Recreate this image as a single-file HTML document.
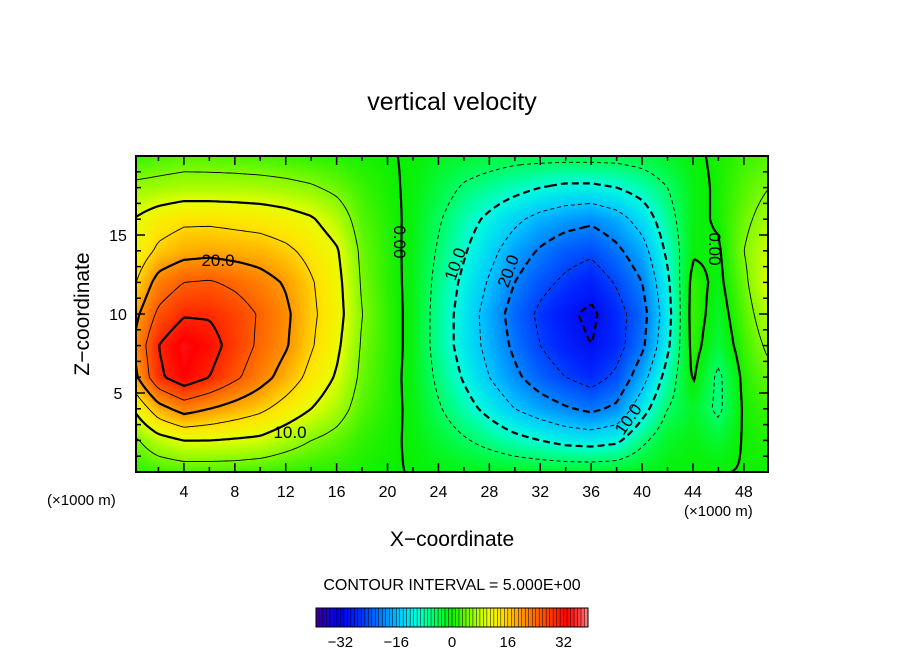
<!DOCTYPE html>
<html><head><meta charset="utf-8"><style>
body{margin:0;background:#fff;width:904px;height:654px;overflow:hidden;position:relative;font-family:"Liberation Sans",sans-serif;}
.t{position:absolute;color:#000;white-space:nowrap;}
</style></head><body>
<div class="t" style="left:0;width:904px;text-align:center;top:88px;font-size:25px;">vertical velocity</div>
<svg id="svg" width="904" height="654" style="position:absolute;left:0;top:0">
<foreignObject x="136" y="156" width="632" height="316"><canvas id="cv" width="632" height="316" xmlns="http://www.w3.org/1999/xhtml"></canvas></foreignObject>
<g id="contours"></g>
<rect x="136" y="156" width="632" height="316" fill="none" stroke="#000" stroke-width="2"/>
<g id="ticks"></g>
<g id="cbar"></g>
</svg>
<div class="t" style="left:-2px;top:302px;width:170px;text-align:center;font-size:21px;transform:rotate(-90deg);">Z−coordinate</div>
<div class="t" style="left:0;width:904px;text-align:center;top:528px;font-size:21px;">X−coordinate</div>
<div class="t" style="left:47px;top:492px;font-size:15px;">(×1000 m)</div>
<div class="t" style="left:684px;top:503px;font-size:15px;">(×1000 m)</div>
<div class="t" style="left:0;width:904px;text-align:center;top:577px;font-size:16px;">CONTOUR INTERVAL = 5.000E+00</div>
<script>
const xs=[0,2,4,6,8,10,12,14,16,18,20,22,24,26,28,30,32,34,36,38,40,42,44,46,48,50];
const zs=[20,18,16,14,12,10,8,6,4,2,0];
const W=[
[1.6,2.4,3,2.9,2.6,2.3,1.9,1.4,1.1,0.5,0.2, -0.3,-1.5,-2.5,-3,-3.5,-3.5,-3.5,-3.5,-3.5,-3,-2, -0.5,0.5,2,3],
[6,6.5,7,7,7,6.8,6.3,5.5,4,2,0.5, -0.5,-3,-5.5,-7,-8.5,-10,-11,-11,-10,-8,-5, -1,0.5,3,5],
[10,12.5,14,14,13.5,13,12,10.5,7.5,3,1, -0.8,-4.5,-8,-11,-14,-16.5,-18,-19,-17,-13,-7, -1,0.5,4,7],
[11,16,18,18.5,18,17.5,16,13.5,10.5,4,1.2, -1,-5.5,-9.5,-13.5,-17.5,-20.5,-23,-24,-21,-17,-9, -0.5,-0.5,5,9],
[14,22,25,25.5,24,22,19.5,15.5,11.5,4.5,1.3, -1,-6.5,-11,-15.5,-20,-23.5,-26,-28,-24.5,-20,-11, 1.5,-1,4,10],
[18,26,29.5,29.5,27.5,24.5,21,16,12,5,1.5, -1,-7,-12,-17,-22,-26,-29,-31,-27,-22,-12, 2,-2,3,8],
[20,30,34,32,28,24,20.5,15.5,11,4.5,1.5, -1,-7,-12,-16.5,-21,-25,-28,-30,-27,-21,-11, 1.5,-3,2,6],
[18,29,33,30,26,22,18,13.5,9.5,4,1.2, -1,-6,-10.5,-15,-19,-22.5,-25,-27,-24,-17,-8, 0.5,-6,1,4],
[10,18,22,20,18,16,13,10,7,3,1, -0.7,-4.5,-8,-11.5,-15,-17.5,-19.5,-21,-19,-12,-5, -2,-6,0.5,2],
[4,8,10,10,9.5,9,7,5,3.5,1.5,0.5, -0.4,-2.5,-4.5,-6.5,-8.5,-10,-11.5,-12,-11,-6,-2, -1,-2.5,0.3,1],
[1,2,2.5,2.5,2.5,2,1.5,1.2,1,0.5,0.2, -0.1,-0.5,-1,-1.2,-1.5,-1.7,-1.8,-1.8,-1.6,-1,-0.5, -0.2,-0.2,0.2,0.3]];
const xTicks=[4,8,12,16,20,24,28,32,36,40,44,48];
const zTicks=[5,10,15];
const cbTicks=[-32,-16,0,16,32];
const levels=[-35,-30,-25,-20,-15,-10,-5,0,5,10,15,20,25,30,35];

const X0=136,Y0=156,PW=632,PH=316;
function px(x){return 133+x*12.727;}
function py(z){return 472-z*15.8;}
function xOf(p){return (p-133)/12.727;}
function zOf(p){return (472-p)/15.8;}
function val(x,z){
  let i=Math.max(0,Math.min(xs.length-2,Math.floor(x/2)));
  let tx=Math.max(0,Math.min(1,(x-xs[i])/2));
  let zr=(20-z)/2; let j=Math.max(0,Math.min(zs.length-2,Math.floor(zr)));
  let tz=Math.max(0,Math.min(1,zr-j));
  let a=W[j][i]*(1-tx)+W[j][i+1]*tx, b=W[j+1][i]*(1-tx)+W[j+1][i+1]*tx;
  return a*(1-tz)+b*tz;
}
const stops=[[-40,[70,0,110]],[-36,[30,0,200]],[-32,[0,0,235]],[-27,[0,40,255]],[-20,[0,130,255]],[-15,[0,200,255]],[-10,[0,255,220]],[-5,[0,255,100]],[0,[10,240,0]],[5,[130,250,0]],[10,[230,255,0]],[14,[255,230,0]],[20,[255,150,0]],[28,[255,60,0]],[33,[255,0,0]],[37,[255,70,70]],[40,[255,170,170]]];
function col(v){
  if(v<=stops[0][0])return stops[0][1];
  for(let k=0;k<stops.length-1;k++){const a=stops[k],b=stops[k+1];
    if(v<=b[0]){const t=(v-a[0])/(b[0]-a[0]);return a[1].map((c,m)=>Math.round(c+(b[1][m]-c)*t));}}
  return stops[stops.length-1][1];
}
const ctx=document.getElementById('cv').getContext('2d');
const img=ctx.createImageData(PW,PH);
for(let y=0;y<PH;y++)for(let x=0;x<PW;x++){
  const c=col(val(xOf(X0+x+0.5),zOf(Y0+y+0.5)));const o=(y*PW+x)*4;
  img.data[o]=c[0];img.data[o+1]=c[1];img.data[o+2]=c[2];img.data[o+3]=255;}
ctx.putImageData(img,0,0);

const NS='http://www.w3.org/2000/svg';
const cg=document.getElementById('contours');
const st=3,nx=Math.ceil(PW/st),ny=Math.ceil(PH/st);
const F=[];for(let j=0;j<=ny;j++){F[j]=[];for(let i=0;i<=nx;i++)F[j][i]=val(xOf(X0+Math.min(i*st,PW)),zOf(Y0+Math.min(j*st,PH)));}
function key(p){return p[0].toFixed(2)+','+p[1].toFixed(2);}
levels.forEach(L=>{
  const segs=[];
  for(let j=0;j<ny;j++)for(let i=0;i<nx;i++){
    const P=[[i,j],[i+1,j],[i+1,j+1],[i,j+1]];const v=P.map(p=>F[p[1]][p[0]]);
    const pts=[];
    for(let e=0;e<4;e++){const a=v[e],b=v[(e+1)%4];
      if((a<L)!==(b<L)){const t=(L-a)/(b-a);const p1=P[e],p2=P[(e+1)%4];
        pts.push([X0+Math.min((p1[0]+(p2[0]-p1[0])*t)*st,PW),Y0+Math.min((p1[1]+(p2[1]-p1[1])*t)*st,PH)]);}}
    for(let k=0;k+1<pts.length;k+=2)segs.push([pts[k],pts[k+1]]);
  }
  const map={};segs.forEach((s,n)=>{[0,1].forEach(e=>{const k=key(s[e]);(map[k]=map[k]||[]).push(n);});});
  const used=new Array(segs.length).fill(false);
  function extend(line){
    while(true){const end=line[line.length-1];const c=(map[key(end)]||[]).find(n=>!used[n]);
      if(c===undefined)break;used[c]=true;const s=segs[c];
      line.push(key(s[0])===key(end)?s[1]:s[0]);}
  }
  let d='';
  segs.forEach((s,n)=>{if(used[n])return;used[n]=true;
    let line=[s[0],s[1]];extend(line);line.reverse();extend(line);
    d+='M'+line.map(p=>p[0].toFixed(1)+','+p[1].toFixed(1)).join('L');});
  const p=document.createElementNS(NS,'path');
  
  
  p.setAttribute('d',d);p.setAttribute('fill','none');p.setAttribute('stroke','#000');
  p.setAttribute('stroke-width',L%10===0?2.2:0.9);
  if(L<0)p.setAttribute('stroke-dasharray',L%10===0?'7,4':'4,3');
  cg.appendChild(p);
});
const tg=document.getElementById('ticks');
function line(g,x1,y1,x2,y2,w){const l=document.createElementNS(NS,'line');l.setAttribute('x1',x1);l.setAttribute('y1',y1);l.setAttribute('x2',x2);l.setAttribute('y2',y2);l.setAttribute('stroke','#000');l.setAttribute('stroke-width',w||1.5);g.appendChild(l);return l;}
function text(g,x,y,s,sz){const t=document.createElementNS(NS,'text');t.setAttribute('x',x);t.setAttribute('y',y);t.setAttribute('text-anchor','middle');t.setAttribute('font-family','Liberation Sans, sans-serif');t.setAttribute('font-size',sz||16);t.textContent=s;g.appendChild(t);return t;}
for(let x=2;x<=49;x+=2){const X=px(x),len=x%4===0?9:5;line(tg,X,472,X,472-len);line(tg,X,156,X,156+len);}
xTicks.forEach(x=>{const t=text(tg,px(x),497,String(x));});
for(let z=1;z<20;z++){const Y=py(z),len=z%5===0?9:5;line(tg,136,Y,136+len,Y);line(tg,768,Y,768-len,Y);}
zTicks.forEach(z=>{const t=text(tg,118,py(z)+6,String(z));});
const cb=document.getElementById('cbar');
const cb0=316,cbW=272,vmin=-39,vmax=39,n=78;
for(let k=0;k<n;k++){const v=vmin+(k+0.5)*(vmax-vmin)/n;const c=col(v);
  const r=document.createElementNS(NS,'rect');r.setAttribute('x',cb0+k*cbW/n);r.setAttribute('y',608);r.setAttribute('width',cbW/n+0.3);r.setAttribute('height',19);r.setAttribute('fill',`rgb(${c})`);cb.appendChild(r);
  line(cb,cb0+k*cbW/n,608,cb0+k*cbW/n,627,0.5);}
const fr=document.createElementNS(NS,'rect');fr.setAttribute('x',cb0);fr.setAttribute('y',608);fr.setAttribute('width',cbW);fr.setAttribute('height',19);fr.setAttribute('fill','none');fr.setAttribute('stroke','#000');cb.appendChild(fr);
cbTicks.forEach(v=>{const t=text(cb,cb0+(v-vmin)/(vmax-vmin)*cbW,647,v<0?'−'+(-v):String(v),15);});
[[400,248,'0.00',90],[455,270,'10.0',-70],[508,277,'20.0',-70],[715,255,'0.00',90],[628,425,'10.0',-55],[218,266,'20.0',0],[290,438,'10.0',0]].forEach(a=>{
  const t=text(tg,a[0],a[1],a[2],17);t.setAttribute('transform',`rotate(${a[3]} ${a[0]} ${a[1]-6})`);});
</script>
</body></html>
